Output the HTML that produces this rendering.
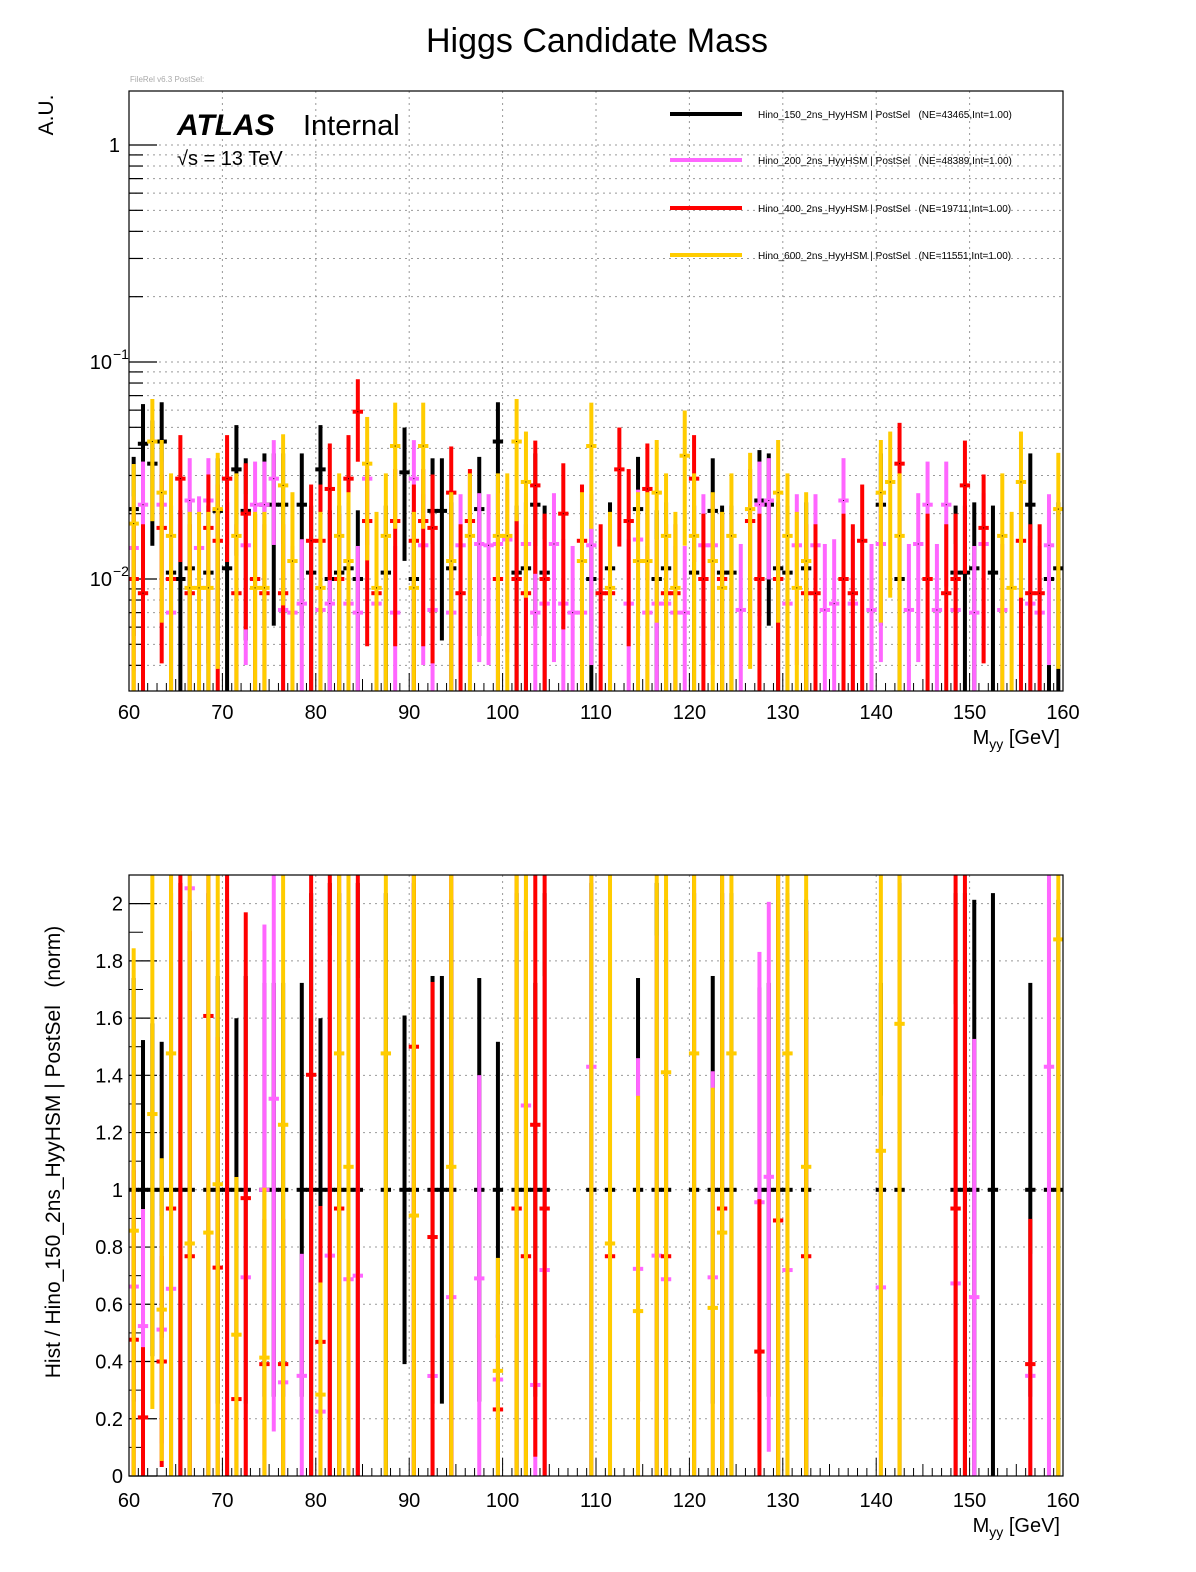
<!DOCTYPE html>
<html><head><meta charset="utf-8"><style>
html,body{margin:0;padding:0;background:#fff;}
svg{display:block;font-family:"Liberation Sans",sans-serif;}
.pre{white-space:pre;}
</style></head><body>
<svg id="c" width="1196" height="1572" viewBox="0 0 1196 1572" xmlns="http://www.w3.org/2000/svg">
<rect x="0" y="0" width="1196" height="1572" fill="#fff"/>
<text x="597" y="52" font-size="34" text-anchor="middle">Higgs Candidate Mass</text>
<text x="130" y="82" font-size="8" fill="#aaa">FileRel v6.3 PostSel:</text>
<g id="topPanel"></g>
<g id="botPanel"></g>
</svg>
<script>
const categories = Array.from({length:100},(_,i)=>60+i+0.5);
const seriesNames = ["Hino_150_2ns_HyyHSM","Hino_200_2ns_HyyHSM","Hino_400_2ns_HyyHSM","Hino_600_2ns_HyyHSM"];
const seriesNE = ["43465","48389","19711","11551"];
const black=[0.021,0.042,0.034,0.043,0.0107,0.010,0.0112,0,0.0107,0.0206,0.0112,0.032,0.0206,0,0.022,0.022,0.022,0,0.022,0.0107,0.032,0.010,0.0107,0.0112,0.010,0,
0,0.0107,0,0.031,0.010,0,0.0206,0.0206,0.0112,0,0,0.021,0,0.043,0,0.0107,0.0112,0.022,0.0107,0,0,0,0,0.010,0,0.0112,
0,0,0.021,0,0.010,0.0112,0,0,0.0107,0,0.0206,0.0107,0.0107,0,0,0.023,0.022,0.0112,0.0107,0,0.0112,0,0,0,0,0,
0,0,0.022,0,0.010,0,0,0,0,0,0.0107,0.0107,0.0112,0,0.0107,0,0,0,0.022,0,0.010,0.0112];
const pink=[0.0139,0.022,0,0.022,0.007,0,0.023,0.0139,0.023,0,0.029,0,0.0143,0.022,0.022,0.029,0.0072,0.007,0.0077,0,0.0072,0.0077,0,0.0077,0.007,0.029,
0.0077,0,0.007,0,0.029,0.0143,0.0072,0,0.007,0.0143,0,0.0145,0.0143,0.0145,0.0152,0,0.0145,0.007,0.0077,0.0145,0.0077,0.007,0.007,0.0143,0,0,
0,0.0077,0.0152,0.007,0.0077,0.0077,0.007,0.007,0,0.0143,0.0143,0,0,0.0072,0,0.022,0.023,0,0.0077,0.0143,0,0.0143,0.0072,0.0077,0.023,0.0077,
0,0.0072,0.0145,0,0,0.0072,0.0145,0.022,0.0072,0.022,0.0072,0,0.007,0.0145,0,0.0072,0,0,0.0077,0.007,0.0143,0];
const red=[0.010,0.0086,0,0.0172,0.010,0.029,0.0086,0,0.0172,0.015,0.029,0.0086,0.020,0.010,0.0086,0,0.0086,0,0,0.015,0.015,0.026,0.010,0.029,0.059,0.0185,
0.0086,0,0.0185,0,0.015,0.0185,0.0172,0,0.025,0.0086,0.0185,0,0,0.010,0,0.010,0.0086,0.027,0.010,0,0.020,0,0.015,0,0.0086,0.0086,
0.032,0.0185,0,0.026,0,0.0086,0.0086,0,0.029,0.010,0,0.010,0,0,0.0185,0.010,0,0.010,0,0,0.0086,0.0086,0,0,0.010,0.0086,
0.015,0,0,0,0.034,0,0,0.010,0,0.0086,0.010,0.027,0,0.0172,0,0,0,0.015,0.0086,0.0086,0,0];
const yellow=[0.018,0,0.043,0.025,0.0158,0,0.0091,0.0091,0.0091,0.021,0,0.0158,0,0.0091,0.0091,0,0.027,0.0121,0,0,0.0091,0,0.0158,0.0121,0,0.034,
0.0091,0.0158,0.041,0,0.0091,0.041,0,0,0.0121,0,0.0158,0,0,0.0158,0.0158,0.043,0.028,0,0,0,0,0,0.0121,0.041,0,0.0091,
0,0,0.0121,0.0121,0.025,0.0158,0.0091,0.037,0.0158,0,0.0121,0.0091,0.0158,0,0.021,0,0,0.025,0.0158,0.0091,0.0121,0,0,0,0,0,
0,0,0.025,0.028,0.0158,0,0,0,0,0,0,0,0,0,0,0.0158,0.0091,0.028,0,0,0,0.021];
const xTicks=[60,70,80,90,100,110,120,130,140,150,160];
const ratioTicks=[0,0.2,0.4,0.6,0.8,1,1.2,1.4,1.6,1.8,2];

const NS="http://www.w3.org/2000/svg";
function mk(parent,tag,attrs,text){const e=document.createElementNS(NS,tag);for(const k in attrs)e.setAttribute(k,attrs[k]);if(text!==undefined)e.textContent=text;parent.appendChild(e);return e;}
const X0=129,X1=1063;
const xs=v=>X0+(v-60)/100*(X1-X0);
const T0=91,T1=691, yDec=217, y1pos=145;
const ly=v=>y1pos-Math.log10(v)*yDec;
const yTopMin=Math.pow(10,-(T1-y1pos)/yDec), yTopMax=Math.pow(10,(y1pos-T0)/yDec);
const B0=875,B1=1476, rMax=2.1;
const ry=v=>B1-v/rMax*(B1-B0);

const seriesList=[{d:black,c:"#000",u:0.0115,n:"black"},{d:pink,c:"#ff66ff",u:0.0074,n:"pink"},{d:red,c:"#ff0000",u:0.010,n:"red"},{d:yellow,c:"#ffcc00",u:0.014,n:"yellow"}];
const gTop=document.getElementById('topPanel'), gBot=document.getElementById('botPanel');

function xGrid(g,y0,y1){
  xTicks.forEach(t=>{if(t>60&&t<160){const l=mk(g,'line',{x1:xs(t),x2:xs(t),y1:y0,y2:y1,stroke:'#999','stroke-dasharray':'2,4','stroke-width':1});

}});
}
xGrid(gTop,T0,T1);
for(let e=-3;e<=0;e++){for(let m=1;m<=9;m++){const v=m*Math.pow(10,e);if(v<yTopMin||v>yTopMax)continue;const y=ly(v);
const l=mk(gTop,'line',{x1:X0,x2:X1,y1:y,y2:y,stroke:'#999','stroke-dasharray':'2,4','stroke-width':1});


const t=mk(gTop,'line',{x1:X0,x2:X0+(m===1?28:14),y1:y,y2:y,stroke:'#000','stroke-width':1.2});

}}
function errFor(v,u){return Math.sqrt(v*u);}
const bw=(X1-X0)/100;
seriesList.forEach(s=>{
  const g=mk(gTop,'g',{});
  
  
  s.d.forEach((v,i)=>{if(!v)return;const x=xs(categories[i]);const e=errFor(v,s.u);
    const lo=v-e>yTopMin?ly(v-e):T1; const hi=Math.max(T0,ly(Math.min(v+e,yTopMax)));
    const b=mk(g,'rect',{x:x-2,y:hi,width:4,height:lo-hi,fill:s.c});
    
    
    const m=mk(g,'rect',{x:x-bw/2-0.5,y:ly(v)-2,width:bw+1,height:4,fill:s.c});
    
    
    const d=mk(g,'rect',{x:x-0.5,y:ly(v)-0.5,width:1,height:1,fill:'#000'});
    
    
  });
});
xGrid(gBot,B0,B1);
ratioTicks.forEach(t=>{const y=ry(t);
  if(t>0){const l=mk(gBot,'line',{x1:X0,x2:X1,y1:y,y2:y,stroke:'#999','stroke-dasharray':'2,4','stroke-width':1});
  
  }
  const k=mk(gBot,'line',{x1:X0,x2:X0+28,y1:y,y2:y,stroke:'#000','stroke-width':1.2});
  
  
  const lb=mk(gBot,'text',{x:X0-6,y:y+7,'font-size':20,'text-anchor':'end'},String(t));
  
  
});
for(let t=0.1;t<2.1;t+=0.2){const y=ry(t);const k=mk(gBot,'line',{x1:X0,x2:X0+14,y1:y,y2:y,stroke:'#000'});

}
seriesList.forEach((s,si)=>{
  const g=mk(gBot,'g',{});
  
  
  s.d.forEach((v,i)=>{const b0=black[i];if(!v||!b0)return;const x=xs(categories[i]);
    const r=v/b0; const re=Math.sqrt(s.u/v + (si===0?0:0.0115/b0)); const e=r*re;
    const lo=ry(Math.max(0,r-e)), hi=ry(Math.min(rMax,r+e));
    if(r-e<rMax){const b=mk(g,'rect',{x:x-2,y:hi,width:4,height:Math.max(0,lo-hi),fill:s.c});
    
    }
    if(r<rMax){const m=mk(g,'rect',{x:x-bw/2-0.5,y:ry(r)-2,width:bw+1,height:4,fill:s.c});
    
    }
  });
});
[[gTop,T0,T1,712],[gBot,B0,B1,1500]].forEach(([g,y0,y1,ly0],pi)=>{
  const f=mk(g,'rect',{x:X0,y:y0,width:X1-X0,height:y1-y0,fill:'none',stroke:'#000','stroke-width':1.2});
  
  
  for(let v=60;v<=160;v++){const maj=v%10===0, mid=v%5===0;const len=maj?18:(mid?12:8);
    const k=mk(g,'line',{x1:xs(v),x2:xs(v),y1:y1,y2:y1-len,stroke:'#000','stroke-width':1});
    
    }
  xTicks.forEach(t=>{const lb=mk(g,'text',{x:xs(t),y:ly0+7,'font-size':20,'text-anchor':'middle'},String(t));
    
    });
  const xt=mk(g,'text',{x:1060,y:ly0+32,'font-size':20,'text-anchor':'end'});
  
  
  xt.innerHTML='M<tspan font-size="14" dy="5">yy</tspan><tspan dy="-5"> [GeV]</tspan>';
});
[[1,'1'],[0.1,'10'],[0.01,'10']].forEach(([v,s],k)=>{const t=mk(gTop,'text',{x:k?112:120,y:ly(v)+7,'font-size':20,'text-anchor':'end'},s);


if(k){const sp=mk(gTop,'text',{x:113,y:ly(v)-3,'font-size':14},k===1?'\u22121':'\u22122');

}});
const yt=mk(gTop,'text',{x:0,y:0,'font-size':21,'text-anchor':'middle',transform:'translate(53,115) rotate(-90)'},'A.U.');


const ryt=mk(gBot,'text',{x:0,y:0,'font-size':21,'text-anchor':'middle',class:'pre',transform:'translate(60,1152) rotate(-90)'},'Hist / Hino_150_2ns_HyyHSM | PostSel   (norm)');


const at=mk(gTop,'text',{x:177,y:135,'font-size':30,'font-weight':'bold','font-style':'italic'},'ATLAS');


const it=mk(gTop,'text',{x:303,y:135,'font-size':29},'Internal');


const sq=mk(gTop,'text',{x:177,y:165,'font-size':20},'\u221As = 13 TeV');


const legY=[114,160,208,255];
seriesList.forEach((s,k)=>{
  const l=mk(gTop,'line',{x1:670,x2:742,y1:legY[k],y2:legY[k],stroke:s.c,'stroke-width':4});
  
  
  const t=mk(gTop,'text',{x:758,y:legY[k]+4,'font-size':10,class:'pre'},seriesNames[k]+' | PostSel   (NE='+seriesNE[k]+',Int=1.00)');
  
  
});
</script>
</body></html>
